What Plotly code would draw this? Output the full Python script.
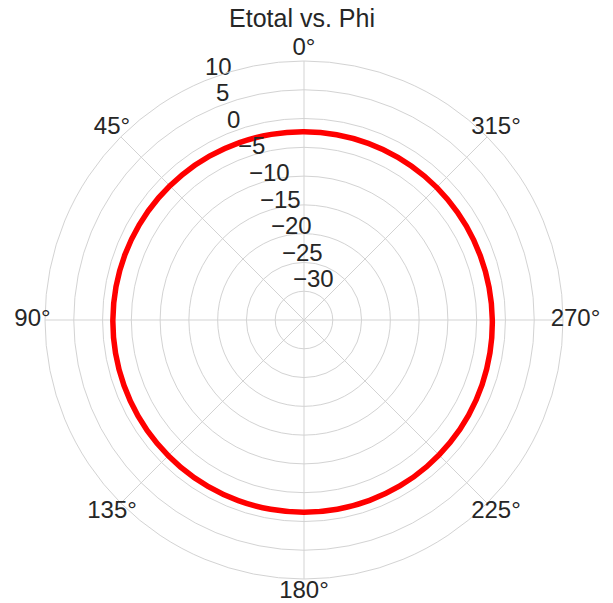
import plotly.graph_objects as go

# Data
phi_deg = [0, 10, 20, 30, 40, 50, 60, 70, 80, 90, 100, 110, 120, 130, 140, 150,
           160, 170, 180, 190, 200, 210, 220, 230, 240, 250, 260, 270, 280, 290,
           300, 310, 320, 330, 340, 350, 360]
etotal_db = [-2.30, -2.25, -2.20, -2.14, -2.07, -2.00, -1.94, -1.88, -1.83, -1.79,
             -1.75, -1.72, -1.69, -1.66, -1.64, -1.62, -1.61, -1.60, -1.60, -1.62,
             -1.65, -1.70, -1.78, -1.87, -1.97, -2.08, -2.19, -2.28, -2.35, -2.40,
             -2.42, -2.42, -2.40, -2.37, -2.34, -2.32, -2.30]

angular_ticks = [0, 45, 90, 135, 180, 225, 270, 315]
angular_labels = [f"{t}°" for t in angular_ticks]
radial_ticks = [-30, -25, -20, -15, -10, -5, 0, 5, 10]
radial_labels = [str(v).replace("-", "\u2212") for v in radial_ticks]
radial_range = [-35, 10]

# page body has an 8px margin, so the figure is shifted by 8px
OFF = 8
W, H = 613 - OFF, 603 - OFF
cx, cy, R = 304 - OFF, 320 - OFF, 259
grid = "#d3d3d3"
txt = "#262626"
font_family = "Liberation Sans, Arial, sans-serif"

rlabel_angle = 22.5                      # matplotlib default radial-label angle
span = radial_range[1] - radial_range[0]
px_per_unit = R / span
theta_label_r = radial_range[1] + 12.5 / px_per_unit   # ~12.5 px outside the frame
R2 = R + 18                                          # overlay polar for theta labels
range2 = [radial_range[0], radial_range[0] + R2 / px_per_unit]

fig = go.Figure()
fig.add_trace(go.Scatterpolar(
    theta=phi_deg, r=etotal_db, mode="lines",
    line=dict(color="#ff0000", width=5.5, shape="spline", smoothing=1),
    showlegend=False, hoverinfo="skip",
))
# radial tick labels
fig.add_trace(go.Scatterpolar(
    theta=[rlabel_angle] * len(radial_ticks), r=radial_ticks,
    mode="text", text=radial_labels, textposition="top right",
    textfont=dict(size=24, color=txt, family=font_family),
    cliponaxis=False, showlegend=False, hoverinfo="skip",
))
# angular tick labels (on a transparent, slightly larger overlay polar)
fig.add_trace(go.Scatterpolar(
    theta=angular_ticks, r=[theta_label_r] * len(angular_ticks),
    mode="text", text=angular_labels, textposition="middle center",
    textfont=dict(size=24, color=txt, family=font_family),
    cliponaxis=False, showlegend=False, hoverinfo="skip", subplot="polar2",
))

hidden_axis = dict(showgrid=False, showline=False, showticklabels=False, ticks="")

fig.update_layout(
    width=W, height=H,
    margin=dict(l=0, r=0, t=0, b=0),
    paper_bgcolor="white",
    font=dict(family=font_family, color=txt, size=24),
    title=dict(text="Etotal vs. Phi", x=(302 - OFF) / W, xanchor="center",
               y=(H - (18 - OFF)) / H, yanchor="middle",
               font=dict(size=25, color=txt, family=font_family)),
    polar=dict(
        domain=dict(x=[(cx - R) / W, (cx + R) / W],
                    y=[(H - cy - R) / H, (H - cy + R) / H]),
        bgcolor="white",
        angularaxis=dict(
            rotation=90, direction="counterclockwise",
            tickmode="array", tickvals=angular_ticks,
            showticklabels=False,
            showgrid=True, gridcolor=grid, gridwidth=1,
            showline=True, linecolor=grid, linewidth=1,
            ticks="",
        ),
        radialaxis=dict(
            range=radial_range, tickmode="array", tickvals=radial_ticks,
            showticklabels=False,
            showgrid=True, gridcolor=grid, gridwidth=1,
            showline=False, ticks="",
        ),
    ),
    polar2=dict(
        domain=dict(x=[(cx - R2) / W, (cx + R2) / W],
                    y=[(H - cy - R2) / H, (H - cy + R2) / H]),
        bgcolor="rgba(0,0,0,0)",
        angularaxis=dict(rotation=90, direction="counterclockwise", **hidden_axis),
        radialaxis=dict(range=range2, **hidden_axis),
    ),
)

fig.write_html("out.html")
